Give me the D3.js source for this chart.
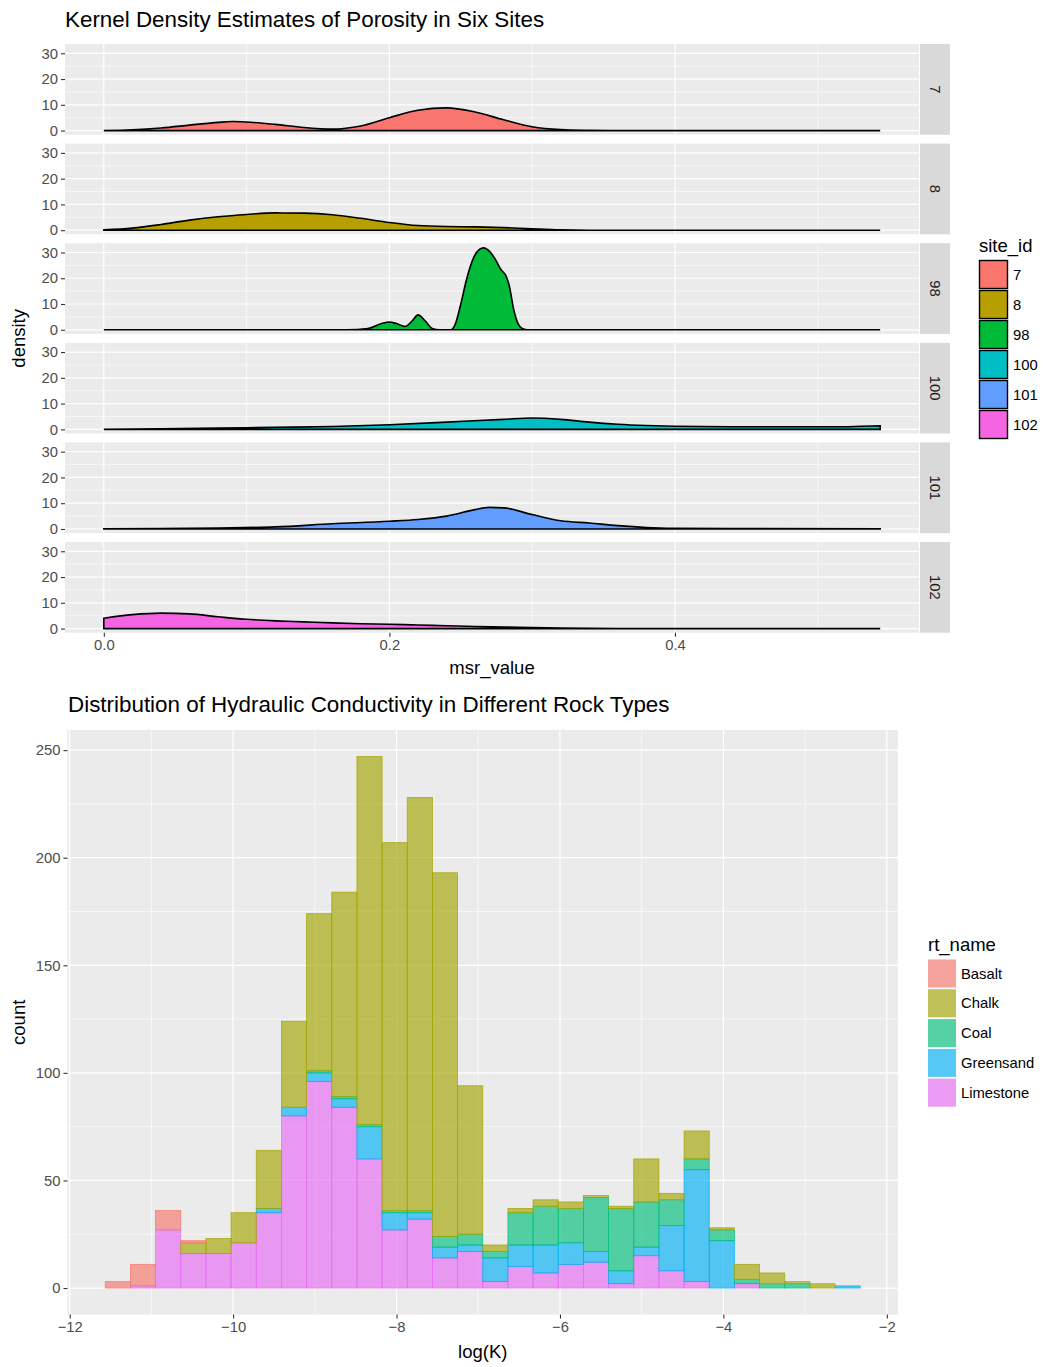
<!DOCTYPE html>
<html>
<head>
<meta charset="utf-8">
<title>Porosity and hydraulic conductivity</title>
<script src="https://cdn.jsdelivr.net/npm/d3@7"></script>
<style>
  body { margin: 0; background: #fff; }
  text { font-family: "Liberation Sans", Arial, sans-serif; }
</style>
</head>
<body>
<svg id="chart" width="1043" height="1367"></svg>
<script>
// ---- top chart: density of msr_value per site ----
var siteIds = ["7", "8", "98", "100", "101", "102"];
var siteColors = ["#F8766D", "#B79F00", "#00BA38", "#00BFC4", "#619CFF", "#F564E3"];
var msrMax = 0.5437;

var dens7 = [[0,0],[0.02,0.3],[0.04,1.0],[0.06,2.1],[0.08,3.2],[0.09,3.5],[0.10,3.3],[0.12,2.4],[0.14,1.2],
  [0.16,0.6],[0.18,1.8],[0.20,5.0],[0.22,7.9],[0.24,8.8],[0.26,7.2],[0.28,4.2],[0.30,1.5],
  [0.32,0.4],[0.34,0.1],[0.36,0],[0.5437,0]];
var dens8 = [[0,0.1],[0.02,0.8],[0.04,2.2],[0.06,3.9],[0.08,5.2],[0.10,6.1],[0.12,6.7],[0.14,6.6],
  [0.16,6.0],[0.18,4.6],[0.20,3.0],[0.22,1.8],[0.24,1.4],[0.26,1.3],[0.28,1.0],[0.30,0.5],
  [0.32,0.1],[0.34,0],[0.5437,0]];
var dens98 = [[0,0],[0.17,0],[0.185,0.5],[0.195,2.5],[0.200,3.0],[0.205,2.4],[0.211,1.3],[0.216,3.5],
  [0.220,5.8],[0.225,3.5],[0.230,0.5],[0.235,0],[0.243,0],[0.246,2],[0.250,10],[0.254,19.5],
  [0.259,28],[0.263,31.2],[0.266,31.8],[0.270,30.5],[0.274,27.5],[0.278,23.5],[0.282,20.5],
  [0.284,17],[0.287,8],[0.290,2.5],[0.293,0.5],[0.297,0],[0.5437,0]];
var dens100 = [[0,0],[0.04,0.2],[0.08,0.5],[0.12,0.8],[0.16,1.1],[0.20,1.8],[0.24,2.8],[0.28,3.9],
  [0.30,4.4],[0.32,3.9],[0.34,2.8],[0.36,2.0],[0.38,1.5],[0.40,1.2],[0.44,1.0],[0.48,1.0],
  [0.51,1.0],[0.53,1.2],[0.5437,1.4]];
var dens101 = [[0,0.1],[0.04,0.2],[0.08,0.4],[0.12,0.8],[0.16,2.0],[0.20,3.0],[0.22,3.7],[0.24,5.0],
  [0.26,7.5],[0.27,8.4],[0.28,8.2],[0.30,5.6],[0.32,3.2],[0.34,2.3],[0.36,1.3],[0.38,0.6],
  [0.40,0.3],[0.44,0.15],[0.5437,0.05]];
var dens102 = [[0,4.0],[0.02,5.4],[0.04,6.0],[0.06,5.7],[0.08,4.6],[0.10,3.6],[0.12,3.0],[0.14,2.6],
  [0.16,2.2],[0.18,1.9],[0.20,1.7],[0.22,1.4],[0.24,1.1],[0.26,0.8],[0.28,0.6],[0.30,0.4],
  [0.32,0.2],[0.36,0.05],[0.5437,0]];
var densities = [dens7, dens8, dens98, dens100, dens101, dens102];
var densTicks = [0, 10, 20, 30];
var msrTicks = [0, 0.2, 0.4];

// ---- bottom chart: stacked histogram of log(K) ----
var rockTypes = ["Basalt", "Chalk", "Coal", "Greensand", "Limestone"];
var rockColors = ["#F8766D", "#A3A500", "#00BF7D", "#00B0F6", "#E76BF3"];
var binStart = -11.565, binWidth = 0.308;
var basalt    = [3,10,9,1,0,0,0,0,0,0,0,0,0,0,0,0,0,0,0,0,0,0,0,0,0,0,0,0,0,0];
var chalk     = [0,0,0,5,7,14,27,40,73,95,171,171,192,169,69,3,2,3,3,1,1,20,3,13,1,7,5,1,2,0];
var coal      = [0,0,0,0,0,0,0,0,1,1,1,1,1,5,5,3,15,18,16,25,29,21,12,5,5,2,2,2,0,0];
var greensand = [0,0,0,0,0,0,2,4,4,4,15,8,3,5,3,11,10,13,10,5,6,4,21,52,22,0,0,0,0,1];
var limestone = [0,1,27,16,16,21,35,80,96,84,60,27,32,14,17,3,10,7,11,12,2,15,8,3,0,2,0,0,0,0];
var countTicks = [0, 50, 100, 150, 200, 250];
var logKTicks = [-12, -10, -8, -6, -4, -2];

var svg = d3.select("#chart");
var grey = "#4D4D4D";

function gridLines(g, x0, x1, y0, y1, xs, ys, w) {
  xs.forEach(function(v) {
    g.append("line").attr("x1", v).attr("x2", v).attr("y1", y0).attr("y2", y1)
      .attr("stroke", "#fff").attr("stroke-width", w);
  });
  ys.forEach(function(v) {
    g.append("line").attr("x1", x0).attr("x2", x1).attr("y1", v).attr("y2", v)
      .attr("stroke", "#fff").attr("stroke-width", w);
  });
}

function styleAxis(g) {
  g.select(".domain").remove();
  g.selectAll(".tick line").attr("stroke", "#333").attr("stroke-width", 1.1);
  g.selectAll(".tick text").attr("fill", grey).style("font-size", "14.8px")
    .style("font-family", "'Liberation Sans', Arial, sans-serif");
}

/* ---------- top chart ---------- */
var pL = 65, pR = 919, pTop = 44, pH = 90.7, pStep = 99.6;
var xD = d3.scaleLinear().domain([-0.05 * msrMax, msrMax * 1.05]).range([pL, pR]);
var densArea;

svg.append("text").attr("x", 65).attr("y", 27).text("Kernel Density Estimates of Porosity in Six Sites")
  .style("font-size", "22.4px").attr("fill", "#000");

siteIds.forEach(function(id, i) {
  var top = pTop + i * pStep;
  var y = d3.scaleLinear().domain([-1.6, 33.6]).range([top + pH, top]);
  var g = svg.append("g");
  g.append("rect").attr("x", pL).attr("y", top).attr("width", pR - pL).attr("height", pH).attr("fill", "#EBEBEB");
  gridLines(g, pL, pR, top, top + pH, [0.1, 0.3, 0.5].map(xD), [5, 15, 25].map(y), 0.6);
  gridLines(g, pL, pR, top, top + pH, msrTicks.map(xD), densTicks.map(y), 1.2);

  densArea = d3.area().x(function(d) { return xD(d[0]); })
    .y0(y(0)).y1(function(d) { return y(d[1]); }).curve(d3.curveMonotoneX);
  g.append("path").datum(densities[i]).attr("d", densArea)
    .attr("fill", siteColors[i]).attr("stroke", "#000").attr("stroke-width", 1.6);

  // strip
  g.append("rect").attr("x", pR + 1).attr("y", top).attr("width", 30).attr("height", pH).attr("fill", "#D9D9D9");
  g.append("text").attr("transform", "translate(" + (pR + 16) + "," + (top + pH / 2) + ") rotate(90)")
    .attr("text-anchor", "middle").attr("dominant-baseline", "central")
    .attr("fill", "#1A1A1A").style("font-size", "14.8px").text(id);

  var ya = g.append("g").attr("transform", "translate(" + pL + ",0)")
    .call(d3.axisLeft(y).tickValues(densTicks).tickSize(4).tickPadding(3));
  styleAxis(ya);
});

var xa = svg.append("g").attr("transform", "translate(0," + (pTop + 5 * pStep + pH) + ")")
  .call(d3.axisBottom(xD).tickValues(msrTicks).tickFormat(d3.format(".1f")).tickSize(4).tickPadding(3));
styleAxis(xa);

svg.append("text").attr("x", (pL + pR) / 2).attr("y", 674).attr("text-anchor", "middle")
  .style("font-size", "18.5px").text("msr_value");
svg.append("text").attr("transform", "translate(18," + (pTop + (5 * pStep + pH) / 2) + ") rotate(-90)")
  .attr("text-anchor", "middle").attr("dominant-baseline", "central")
  .style("font-size", "18.5px").text("density");

// site legend
svg.append("text").attr("x", 979).attr("y", 252).style("font-size", "18.5px").text("site_id");
siteIds.forEach(function(id, i) {
  var ky = 260.5 + i * 30;
  svg.append("rect").attr("x", 979.5).attr("y", ky).attr("width", 28).attr("height", 28)
    .attr("fill", siteColors[i]).attr("stroke", "#000").attr("stroke-width", 1.4);
  svg.append("text").attr("x", 1013).attr("y", ky + 14).attr("dominant-baseline", "central")
    .style("font-size", "14.8px").text(id);
});

/* ---------- bottom chart ---------- */
var bL = 67.5, bR = 898, bT = 730, bB = 1314.6;
var nBins = basalt.length;
var kMin = binStart, kMax = binStart + nBins * binWidth, kPad = 0.05 * (kMax - kMin);
var xB = d3.scaleLinear().domain([kMin - kPad, kMax + kPad]).range([bL, bR]);
var cMax = 247;
var yB = d3.scaleLinear().domain([-0.05 * cMax, cMax * 1.05]).range([bB, bT]);

svg.append("text").attr("x", 68).attr("y", 712)
  .text("Distribution of Hydraulic Conductivity in Different Rock Types")
  .style("font-size", "22.4px").attr("fill", "#000");

var gb = svg.append("g");
gb.append("rect").attr("x", bL).attr("y", bT).attr("width", bR - bL).attr("height", bB - bT).attr("fill", "#EBEBEB");
gridLines(gb, bL, bR, bT, bB, [-11, -9, -7, -5, -3].map(xB), [25, 75, 125, 175, 225].map(yB), 0.6);
gridLines(gb, bL, bR, bT, bB, logKTicks.map(xB), countTicks.map(yB), 1.2);

var rows = d3.range(nBins).map(function(i) {
  return { bin: i, Basalt: basalt[i], Chalk: chalk[i], Coal: coal[i], Greensand: greensand[i], Limestone: limestone[i] };
});
var stackOrder = ["Limestone", "Greensand", "Coal", "Chalk", "Basalt"];
var series = d3.stack().keys(stackOrder)(rows);
var colorOf = d3.scaleOrdinal().domain(rockTypes).range(rockColors);

series.forEach(function(s) {
  gb.append("g").selectAll("rect").data(s).enter().append("rect")
    .attr("x", function(d) { return xB(binStart + d.data.bin * binWidth); })
    .attr("width", binWidth * (xB(1) - xB(0)))
    .attr("y", function(d) { return yB(d[1]); })
    .attr("height", function(d) { return yB(d[0]) - yB(d[1]); })
    .attr("fill", colorOf(s.key)).attr("fill-opacity", 0.65)
    .attr("stroke", colorOf(s.key)).attr("stroke-opacity", 0.85).attr("stroke-width", 0.8);
});

var yab = svg.append("g").attr("transform", "translate(" + bL + ",0)")
  .call(d3.axisLeft(yB).tickValues(countTicks).tickSize(4).tickPadding(3));
styleAxis(yab);
var xab = svg.append("g").attr("transform", "translate(0," + bB + ")")
  .call(d3.axisBottom(xB).tickValues(logKTicks).tickSize(4).tickPadding(3));
styleAxis(xab);

svg.append("text").attr("x", (bL + bR) / 2).attr("y", 1358).attr("text-anchor", "middle")
  .style("font-size", "18.5px").text("log(K)");
svg.append("text").attr("transform", "translate(18," + ((bT + bB) / 2) + ") rotate(-90)")
  .attr("text-anchor", "middle").attr("dominant-baseline", "central")
  .style("font-size", "18.5px").text("count");

// rock type legend
svg.append("text").attr("x", 928).attr("y", 951).style("font-size", "18.5px").text("rt_name");
rockTypes.forEach(function(r, i) {
  var ky = 959.5 + i * 29.8;
  svg.append("rect").attr("x", 928).attr("y", ky).attr("width", 28).attr("height", 28).attr("fill", "#F2F2F2");
  svg.append("rect").attr("x", 928).attr("y", ky).attr("width", 28).attr("height", 28)
    .attr("fill", rockColors[i]).attr("fill-opacity", 0.65);
  svg.append("text").attr("x", 961).attr("y", ky + 14).attr("dominant-baseline", "central")
    .style("font-size", "14.8px").text(r);
});
</script>
</body>
</html>
